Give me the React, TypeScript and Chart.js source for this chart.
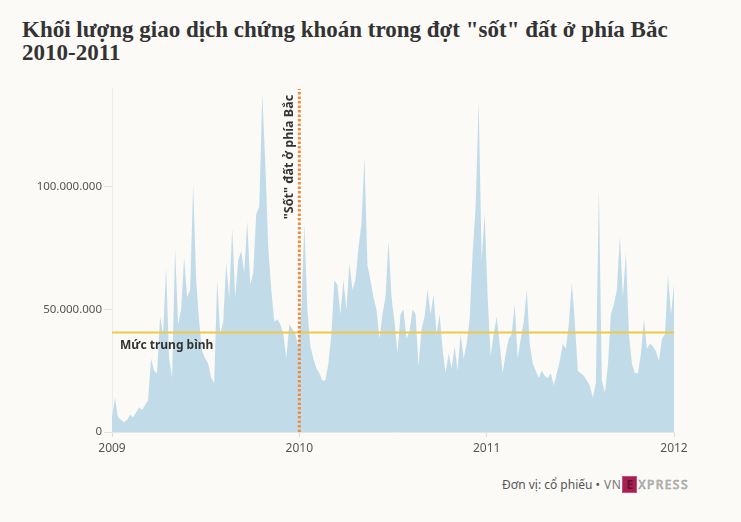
import React, { useEffect, useRef } from "react";
import { Chart, registerables } from "chart.js";

Chart.register(...registerables);

// ---- DATA ----
const TITLE_LINE_1 = 'Khối lượng giao dịch chứng khoán trong đợt "sốt" đất ở phía Bắc';
const TITLE_LINE_2 = "2010-2011";
const YEAR_START = 2009;
const YEAR_END = 2012;
const YEAR_TICKS = [2009, 2010, 2011, 2012];
const Y_TICKS = [0, 50000000, 100000000];
const Y_MAX = 140000000;
const UNIT = 1000000; // values below are in millions of shares
// approximate trading volume samples, evenly spaced from start of 2009 to start of 2012 (millions)
const VOLUME_M = [
  6, 14, 6, 5, 4, 5, 7, 6, 8, 10, 9, 11, 13, 30, 25, 24, 47, 40, 67, 30,
  22, 75, 44, 50, 71, 55, 58, 101, 62, 45, 33, 30, 28, 22, 20, 62, 40, 45, 69, 55,
  83, 55, 70, 74, 65, 86, 60, 65, 89, 92, 138, 110, 75, 58, 45, 46, 44, 40, 30, 44,
  42, 40, 35, 50, 85, 50, 35, 30, 26, 24, 21, 21, 28, 40, 62, 60, 48, 62, 50, 69,
  58, 62, 75, 85, 112, 68, 62, 55, 50, 38, 48, 55, 78, 55, 45, 32, 48, 50, 38, 41,
  50, 48, 27, 42, 47, 58, 48, 56, 40, 48, 34, 24, 32, 26, 35, 25, 40, 30, 36, 46,
  73, 92, 135, 70, 89, 55, 31, 40, 47, 36, 24, 32, 38, 40, 52, 30, 38, 45, 58, 36,
  28, 25, 22, 25, 23, 22, 24, 19, 24, 29, 36, 34, 44, 61, 45, 25, 24, 23, 21, 19,
  14, 20, 100, 21, 16, 27, 48, 52, 58, 80, 55, 73, 40, 28, 24, 24, 32, 46, 34, 36,
  35, 33, 29, 38, 40, 64, 48, 60,
];
const AVERAGE = 40600000;
const AVERAGE_LABEL = "Mức trung bình";
const EVENT_YEAR = 2010;
const EVENT_LABEL = '"Sốt" đất ở phía Bắc';
const FOOTER_TEXT = "Đơn vị: cổ phiếu •";

const formatDots = (v: number) =>
  Math.round(v)
    .toString()
    .replace(/\B(?=(\d{3})+(?!\d))/g, ".");

export default function App() {
  const canvasRef = useRef<HTMLCanvasElement | null>(null);

  useEffect(() => {
    document.body.style.margin = "0";
    document.body.style.background = "#fbfaf7";
    const canvas = canvasRef.current;
    if (!canvas) return;

    const n = VOLUME_M.length;
    const areaData = VOLUME_M.map((v, i) => ({
      x: YEAR_START + ((YEAR_END - YEAR_START) * i) / (n - 1),
      y: v * UNIT,
    }));

    const labelPlugin = {
      id: "labels",
      afterDatasetsDraw(chart: any) {
        const { ctx, scales, chartArea } = chart;
        const xs = scales.x;
        const ys = scales.y;
        ctx.save();
        ctx.fillStyle = "#333";
        ctx.font = "bold 12px 'Noto Sans'";
        ctx.textAlign = "left";
        ctx.textBaseline = "alphabetic";
        ctx.fillText(AVERAGE_LABEL, xs.getPixelForValue(YEAR_START) + 8, ys.getPixelForValue(AVERAGE) + 16);
        ctx.translate(xs.getPixelForValue(EVENT_YEAR) - 6, chartArea.top + 6);
        ctx.rotate(-Math.PI / 2);
        ctx.textAlign = "right";
        ctx.font = "bold 12.5px 'Noto Sans'";
        ctx.fillText(EVENT_LABEL, 0, 0);
        ctx.restore();
      },
    };

    const chart = new Chart(canvas, {
      type: "line",
      data: {
        datasets: [
          {
            label: "event",
            data: [
              { x: EVENT_YEAR, y: 0 },
              { x: EVENT_YEAR, y: Y_MAX },
            ],
            borderColor: "#f08a3e",
            borderWidth: 3,
            borderDash: [2.5, 2],
            pointRadius: 0,
            fill: false,
          },
          {
            label: "avg",
            data: [
              { x: YEAR_START, y: AVERAGE },
              { x: YEAR_END, y: AVERAGE },
            ],
            borderColor: "#efc84a",
            borderWidth: 2,
            pointRadius: 0,
            fill: false,
          },
          {
            label: "volume",
            data: areaData,
            borderWidth: 0,
            borderColor: "rgba(0,0,0,0)",
            backgroundColor: "rgb(193,220,232)",
            pointRadius: 0,
            fill: "origin",
            tension: 0,
          },
        ],
      },
      options: {
        animation: false,
        responsive: false,
        maintainAspectRatio: false,
        events: [],
        layout: { padding: { top: 6, right: 67, left: 0, bottom: 0 } },
        plugins: { legend: { display: false }, tooltip: { enabled: false } },
        scales: {
          x: {
            type: "linear",
            min: YEAR_START,
            max: YEAR_END,
            afterBuildTicks: (s: any) => {
              s.ticks = YEAR_TICKS.map((v) => ({ value: v }));
            },
            afterFit: (s: any) => {
              s.height = 38;
            },
            grid: { drawOnChartArea: false, drawTicks: true, tickLength: 5, color: "#dddddd" },
            border: { display: true, color: "#e6e6e6" },
            ticks: {
              color: "#555",
              font: { family: "'Noto Sans'", size: 12 },
              padding: 4,
              maxRotation: 0,
              callback: (v: any) => String(v),
            },
          },
          y: {
            type: "linear",
            min: 0,
            max: Y_MAX,
            afterBuildTicks: (s: any) => {
              s.ticks = Y_TICKS.map((v) => ({ value: v }));
            },
            afterFit: (s: any) => {
              s.width = 112;
            },
            grid: { drawOnChartArea: false, drawTicks: true, tickLength: 8, color: "#e2e2e2" },
            border: { display: true, color: "#ececec" },
            ticks: {
              color: "#555",
              font: { family: "'Noto Sans'", size: 11.5 },
              padding: 2,
              callback: (v: any) => formatDots(Number(v)),
            },
          },
        },
      },
      plugins: [labelPlugin],
    });
    return () => chart.destroy();
  }, []);

  return (
    <div style={{ position: "relative", width: 741, height: 522, background: "#fbfaf7", overflow: "hidden" }}>
      <div
        style={{
          position: "absolute",
          left: 22,
          top: 18,
          fontFamily: "'Liberation Serif', serif",
          fontWeight: 700,
          fontSize: 23,
          lineHeight: "23px",
          color: "#333",
          whiteSpace: "nowrap",
        }}
      >
        <div>{TITLE_LINE_1}</div>
        <div>{TITLE_LINE_2}</div>
      </div>
      <canvas ref={canvasRef} width={741} height={390} style={{ position: "absolute", left: 0, top: 80, width: 741, height: 390 }} />
      <div
        style={{
          position: "absolute",
          left: 502,
          top: 476,
          display: "flex",
          alignItems: "center",
          fontFamily: "'Noto Sans', sans-serif",
          fontSize: 12,
          color: "#555",
          whiteSpace: "nowrap",
        }}
      >
        <span>{FOOTER_TEXT}</span>
        <span style={{ marginLeft: 4, color: "#777", fontSize: 12, letterSpacing: 0.5 }}>VN</span>
        <span
          style={{
            display: "inline-block",
            width: 13,
            height: 15,
            background: "#a3224f",
            border: "1px solid #d04a80",
            color: "#6b0f30",
            fontSize: 12,
            fontWeight: 700,
            lineHeight: "15px",
            textAlign: "center",
            marginLeft: 1,
          }}
        >
          E
        </span>
        <span style={{ marginLeft: 1, color: "#c9c9c9", WebkitTextStroke: "0.6px #9a9a9a", letterSpacing: 1.5, fontSize: 12 }}>XPRESS</span>
      </div>
    </div>
  );
}
